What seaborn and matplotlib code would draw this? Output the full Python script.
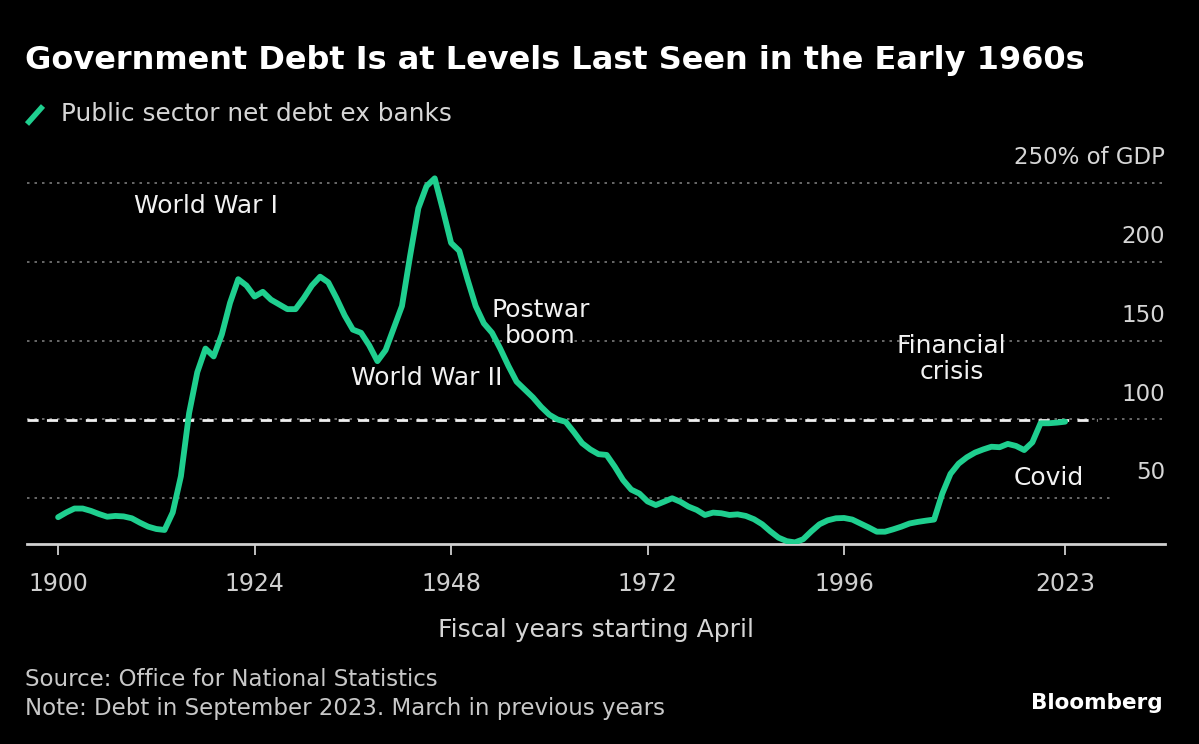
import numpy as np
import pandas as pd
import matplotlib.pyplot as plt
import seaborn as sns
from matplotlib.lines import Line2D

# Public sector net debt ex banks, % of GDP
years = list(range(1900, 2024))
debt_pct = [
    38, 41, 43.5, 43.5, 42, 40, 38.3, 38.8, 38.5, 37.3,        # 1900s
    34.5, 32, 30.5, 29.9, 41, 64, 104, 130, 145, 140,          # 1910s
    154, 174, 189, 185, 178, 181, 176, 173, 170, 170,          # 1920s
    177, 185, 190.6, 187, 177, 166, 157, 155, 147, 137,        # 1930s
    144, 158, 172, 204, 234, 248, 253, 233, 212, 207,          # 1940s
    189, 172, 161, 155, 145, 134, 124, 119, 114, 108,          # 1950s
    103, 100, 98.5, 92, 85, 81, 78, 77.5, 70, 61.6,            # 1960s
    55.5, 53, 48, 45.7, 47.8, 50, 47.8, 44.7, 42.6, 39.4,      # 1970s
    40.9, 40.5, 39.4, 39.8, 38.8, 36.7, 33.5, 29, 25, 22.8,    # 1980s
    22, 24, 29, 33.5, 36, 37.3, 37.5, 36.5, 34, 31.5,          # 1990s
    28.8, 28.8, 30.3, 32, 34, 35, 35.8, 36.5, 53, 65.5,        # 2000s
    72, 76, 79, 81, 82.7, 82.4, 84.5, 83.2, 80.6, 85.5,        # 2010s
    97.6, 97.6, 98, 98.6,                                      # 2020s
]
current_level = 99.5

tick_years = [1900, 1924, 1948, 1972, 1996, 2023]
grid_levels = [50, 100, 150, 200, 250]
grid_labels = ["50", "100", "150", "200", "250% of GDP"]

annotations = [
    ("World War I", 1918.1, 235.5),
    ("World War II", 1945.0, 126.3),
    ("Postwar\nboom", 1958.9, 161.3),
    ("Financial\ncrisis", 2009.1, 138.4),
    ("Covid", 2021.0, 62.8),
]

GREEN = "#1fcf8f"
BG = "#000000"
TEXT = "#d6d6d6"

sns.set_theme(style="white")
plt.rcParams["font.family"] = ["DejaVu Sans"]

df = pd.DataFrame({"year": years, "debt": debt_pct})

W, H = 1199, 744
fig = plt.figure(figsize=(W / 100, H / 100), dpi=100, facecolor=BG)
# axes box in pixels: left 27, right 1165, bottom 544, top 167
ax = fig.add_axes([27 / W, 1 - 544.3 / H, (1165 - 27) / W, (544.3 - 167.3) / H])
ax.set_facecolor(BG)
ax.set_xlim(1896.2, 2035.2)
ax.set_ylim(20.8, 260)

# gridlines
for lv in grid_levels:
    xmax = 1.0
    if lv == 50:
        xmax = (1113 - 27) / (1165 - 27)
    ax.axhline(lv, xmin=0, xmax=xmax, color="#7a7a7a", lw=1.2,
               ls=(0, (1.5, 3)), zorder=1)
ax.axhline(current_level, xmin=0, xmax=(1097 - 27) / (1165 - 27),
           color="#f0f0f0", lw=2, ls=(0, (4, 3)), zorder=2)

sns.lineplot(data=df, x="year", y="debt", ax=ax, color=GREEN, lw=4.2,
             zorder=3, legend=False)

# right side labels above gridlines
for lv, lab in zip(grid_levels, grid_labels):
    ax.annotate(lab, xy=(1, lv), xycoords=("axes fraction", "data"),
                xytext=(0, 10), textcoords="offset points",
                ha="right", va="bottom", color=TEXT, fontsize=16.5)

for txt, x, y in annotations:
    ax.text(x, y, txt, ha="center", va="center", color="#f2f2f2",
            fontsize=18, linespacing=1.1)

ax.set_yticks([])
ax.set_xticks(tick_years)
ax.set_xticklabels([str(y) for y in tick_years])
ax.tick_params(axis="x", colors="#cfcfcf", length=8, width=1.3,
               labelsize=17, pad=12, direction="out", bottom=True)
for s in ["top", "right", "left"]:
    ax.spines[s].set_visible(False)
ax.spines["bottom"].set_color("#d0d0d0")
ax.spines["bottom"].set_linewidth(2)
ax.set_xlabel("Fiscal years starting April", color=TEXT, fontsize=18,
              labelpad=16)
ax.set_ylabel("")

# title, legend, footer
fig.text(25 / W, 1 - 60 / H, "Government Debt Is at Levels Last Seen in the Early 1960s",
         color="white", fontsize=23, fontweight="bold", ha="left", va="center")
fig.add_artist(Line2D([27 / W, 43 / W], [1 - 124 / H, 1 - 106 / H],
                      color=GREEN, lw=4, solid_capstyle="butt"))
fig.text(61 / W, 1 - 114 / H, "Public sector net debt ex banks",
         color=TEXT, fontsize=17.8, ha="left", va="center")
fig.text(25 / W, 1 - 680 / H, "Source: Office for National Statistics",
         color="#c8c8c8", fontsize=16.5, ha="left", va="center")
fig.text(25 / W, 1 - 708 / H, "Note: Debt in September 2023. March in previous years",
         color="#c8c8c8", fontsize=16.5, ha="left", va="center")
fig.text(1163 / W, 1 - 703 / H, "Bloomberg", color="white", fontsize=15.5,
         fontweight="bold", ha="right", va="center")

fig.savefig("out.png", dpi=100, facecolor=BG)
